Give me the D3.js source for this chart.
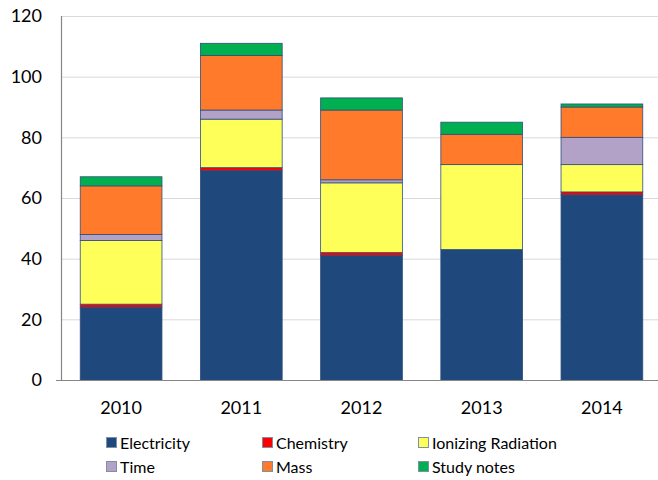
<!DOCTYPE html>
<html><head><meta charset="utf-8">
<script src="https://cdn.jsdelivr.net/npm/d3@7"></script>
<style>body{margin:0;background:#fff}svg{display:block}</style>
</head><body><svg id="c" width="658" height="480"></svg>
<script>
const years = ["2010","2011","2012","2013","2014"];
const seriesNames = ["Electricity","Chemistry","Ionizing Radiation","Time","Mass","Study notes"];
const electricity = [24,69,41,43,61];
const chemistry = [1,1,1,0,1];
const ionizing = [21,16,23,28,9];
const timeVals = [2,3,1,0,9];
const mass = [16,18,23,10,10];
const studyNotes = [3,4,4,4,1];
const yTicks = [0,20,40,60,80,100,120];
const colors = ["#1F497D","#FF0000","#FFFF59","#B3A2C7","#FF7A2B","#00B050"];

const allVals = [electricity,chemistry,ionizing,timeVals,mass,studyNotes];
const rows = years.map((yr,i)=>{const o={year:yr};seriesNames.forEach((s,j)=>o[s]=allVals[j][i]);return o;});
const stacked = d3.stack().keys(seriesNames)(rows);

const svg = d3.select("#c");
const font = "Lato, 'Open Sans', sans-serif";
const pLeft=61, pRight=662, pTop=16, pBottom=380;
const x = d3.scaleBand().domain(years).range([pLeft,pRight]).paddingInner(0.32).paddingOuter(0.16);
const y = d3.scaleLinear().domain([0,120]).range([pBottom,pTop]);

// gridlines
svg.append("g").selectAll("line").data(yTicks.filter(t=>t>0)).join("line")
  .attr("x1",pLeft).attr("x2",658).attr("y1",d=>y(d)+0.5).attr("y2",d=>y(d)+0.5)
  .attr("stroke","#D9D9D9").attr("stroke-width",1);

// bars
svg.append("g").selectAll("g").data(stacked).join("g")
  .attr("fill",(d,i)=>colors[i])
  .selectAll("rect").data(d=>d.filter(p=>p[1]-p[0]>0)).join("rect")
  .attr("x",d=>x(d.data.year)).attr("width",x.bandwidth())
  .attr("y",d=>y(d[1])).attr("height",d=>y(d[0])-y(d[1]))
  .attr("stroke","#2E4E7A").attr("stroke-width",0.8);

// axes lines
svg.append("line").attr("x1",pLeft+0.5).attr("x2",pLeft+0.5).attr("y1",pTop).attr("y2",pBottom)
  .attr("stroke","#868686").attr("stroke-width",1.2);
svg.append("line").attr("x1",pLeft-5).attr("x2",658).attr("y1",pBottom+0.5).attr("y2",pBottom+0.5)
  .attr("stroke","#868686").attr("stroke-width",1.2);

// y tick labels
svg.append("g").selectAll("text").data(yTicks).join("text")
  .attr("x",42).attr("y",d=>y(d)).attr("dy","0.35em").attr("text-anchor","end")
  .attr("font-family",font).attr("font-size",18).attr("fill","#000").text(d=>d);

// x tick labels
svg.append("g").selectAll("text").data(years).join("text")
  .attr("x",d=>x(d)+x.bandwidth()/2).attr("y",408).attr("dy","0.35em").attr("text-anchor","middle")
  .attr("font-family",font).attr("font-size",18).attr("fill","#000").text(d=>d);

// legend
const legX=[106,262,418], legY=[443,467];
const leg = svg.append("g").selectAll("g").data(seriesNames).join("g")
  .attr("transform",(d,i)=>`translate(${legX[i%3]},${legY[Math.floor(i/3)]})`);
leg.append("rect").attr("x",0.5).attr("y",-5.5).attr("width",10).attr("height",10)
  .attr("fill",(d,i)=>colors[i]).attr("stroke","#7F8FA6").attr("stroke-width",1);
leg.append("text").attr("x",14).attr("y",0).attr("dy","0.35em")
  .attr("font-family",font).attr("font-size",16).attr("fill","#000").text(d=>d);
</script></body></html>
